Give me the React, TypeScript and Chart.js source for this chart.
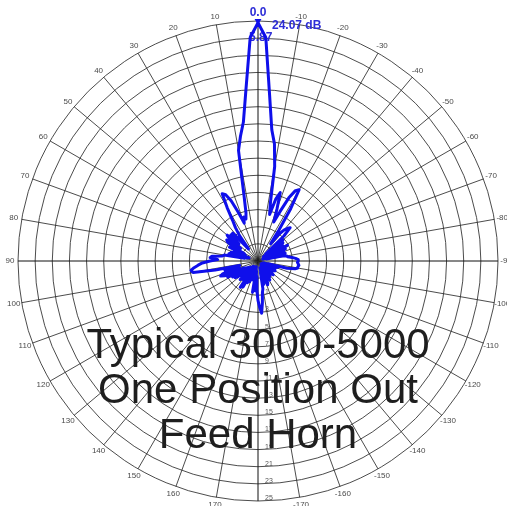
import React, { useEffect, useRef } from 'react';
import { Chart, registerables } from 'chart.js';

Chart.register(...registerables);

// Angle categories (degrees), clockwise from the top: 0, -2, ... -178, 180, 178, ... 2
const angleLabels: string[] = Array.from({ length: 180 }, (_, i) =>
  i === 90 ? '180' : String(i < 90 ? -2 * i : 360 - 2 * i)
);

// Measured gain (dB) from 0° going clockwise to -178°
const gainRightDb: number[] = [
  24.8, 23.1, 16.4, 12.4, 10.8, 8.2, 4.0, 2.6, 4.5, 5.4,
  3.5, 1.9, 3.3, 5.2, 6.3, 6.6, 4.2, 1.4, -0.5, 1.0,
  1.7, 2.1, 2.4, 1.2, -1.8, 0.8, -2.2, 0.6, -1.5, 0.4,
  -2.0, 0.9, -1.2, 0.5, -2.4, 0.2, -1.6, 0.3, -2.0, 0.0,
  0.4, 0.5, 1.0, 1.4, 1.7, 1.7, 1.6, 1.7, 1.8, 1.7,
  1.7, 1.4, 0.5, -1.8, -0.6, -2.3, -0.8, -2.0, -0.9, -2.4,
  -0.7, -1.9, -1.0, -2.5, -0.9, -2.0, -0.6, -2.2, -1.0, -2.5,
  -0.8, -2.0, -0.7, -2.3, -0.4, -1.8, -0.7, -2.1, -0.2, 0.0,
  -1.9, -0.4, -2.2, -0.2, -1.6, 0.3, 0.7, 1.9, 3.1, 2.4,
];

// Measured gain (dB) from 180° going clockwise to 2°
const gainLeftDb: number[] = [
  1.6, 0.5, -1.2, 0.5, -1.8, 0.7, -2.0, -0.8, -2.3, -0.7,
  -2.0, -0.4, -2.2, -0.2, -1.9, 0.5, -1.6, 0.7, -1.9, -0.2,
  -2.2, -0.7, 0.0, -2.0, -0.4, -1.8, 0.0, 0.3, -1.7, 0.5,
  -1.4, 1.0, -1.2, 1.2, 1.7, 1.4, -0.7, 1.0, -0.8, 2.1,
  4.7, 4.9, 4.5, 4.0, 3.5, 2.6, 1.7, 2.6, 2.4, 1.2,
  1.0, -1.4, 0.5, -1.7, 0.3, -1.9, 0.0, -1.4, 0.7, -1.2,
  0.5, 1.2, 1.4, -0.5, 1.2, 1.7, 0.0, 1.4, 1.2, 1.4,
  -0.5, -1.2, 0.7, 1.7, 2.6, 4.2, 5.9, 5.6, 4.7, 3.1,
  1.7, 2.4, 2.1, 2.8, 4.9, 10.1, 11.7, 13.3, 17.1, 23.1,
];

const gainDb: number[] = [...gainRightDb, ...gainLeftDb];

// Peak marker at 0°
const peakMarkerDb: number[] = [25];

// Radial scale (dB)
const rMin = -3;
const rMax = 25;
const rStep = 2;

// Annotations
const peakAngleText = '0.0';
const peakGainText = '24.07 dB';
const beamText = '5.87';

const titleLines = ['Typical 3000-5000', 'One Position Out', 'Feed Horn'];

const FONT = '"Liberation Sans", Arial, Helvetica, sans-serif';

const polarTextPlugin = {
  id: 'polarText',
  beforeDatasetsDraw(chart: any) {
    const s = chart.scales.r;
    const ctx = chart.ctx as CanvasRenderingContext2D;
    ctx.save();
    // angle labels every 10°
    ctx.textAlign = 'center';
    ctx.textBaseline = 'middle';
    ctx.font = `8px ${FONT}`;
    ctx.fillStyle = '#4a4a4a';
    for (let i = 5; i < angleLabels.length; i += 5) {
      const p = s.getPointPosition(i, s.drawingArea + 8);
      ctx.fillText(angleLabels[i], p.x, p.y);
    }
    // radial tick labels along the 180° direction
    ctx.textAlign = 'left';
    ctx.font = `7px ${FONT}`;
    ctx.fillStyle = '#555';
    s.ticks.forEach((t: any, idx: number) => {
      if (idx === 0) return;
      const off = s.getDistanceFromCenterForValue(t.value);
      ctx.fillText(String(t.value), s.xCenter + 7, s.yCenter + off - 3);
    });
    // blue annotations
    ctx.fillStyle = 'rgb(45,45,215)';
    ctx.font = `bold 12px ${FONT}`;
    const top = s.getPointPosition(0, s.drawingArea + 8);
    ctx.textAlign = 'center';
    ctx.fillText(peakAngleText, top.x, top.y);
    ctx.textAlign = 'left';
    ctx.fillText(peakGainText, s.xCenter + 14, s.yCenter - s.drawingArea + 5);
    ctx.fillText(beamText, s.xCenter - 9, s.yCenter - s.drawingArea + 17);
    ctx.restore();
  },
};

export default function App() {
  const canvasRef = useRef<HTMLCanvasElement | null>(null);

  useEffect(() => {
    if (!canvasRef.current) return;
    Chart.defaults.font.family = FONT;
    const chart = new Chart(canvasRef.current, {
      type: 'radar',
      data: {
        labels: angleLabels,
        datasets: [
          {
            label: 'Gain',
            data: gainDb,
            borderColor: 'rgb(15,15,235)',
            borderWidth: 3,
            fill: false,
            pointRadius: 0,
            pointHoverRadius: 0,
            tension: 0,
            borderJoinStyle: 'round',
          },
          {
            label: 'Peak',
            data: peakMarkerDb,
            showLine: false,
            pointStyle: 'triangle',
            rotation: 180,
            pointRadius: 4,
            pointBackgroundColor: 'rgb(15,15,235)',
            pointBorderColor: 'rgb(15,15,235)',
            borderWidth: 0,
          },
        ],
      } as any,
      options: {
        animation: false,
        responsive: false,
        layout: { padding: { left: 18, right: 9, top: 21, bottom: 5 } },
        plugins: {
          legend: { display: false },
          tooltip: { enabled: false },
          title: { display: false },
        },
        scales: {
          r: {
            min: rMin,
            max: rMax,
            beginAtZero: false,
            ticks: { stepSize: rStep, display: false },
            pointLabels: { display: false },
            grid: {
              circular: true,
              color: 'rgba(45,45,45,0.85)',
              lineWidth: 1,
            },
            angleLines: {
              display: true,
              color: (c: any) => (c.index % 45 === 0 ? '#111' : 'rgba(45,45,45,0.85)'),
              lineWidth: (c: any) => (c.index % 5 === 0 ? 1 : 0),
            },
          },
        },
      } as any,
      plugins: [polarTextPlugin],
    });
    return () => chart.destroy();
  }, []);

  return (
    <div style={{ position: 'fixed', left: 0, top: 0, width: 507, height: 506, background: '#fff', overflow: 'hidden' }}>
      <canvas ref={canvasRef} width={507} height={506} style={{ display: 'block' }} />
      <div
        style={{
          position: 'absolute',
          left: 0,
          top: 321,
          width: 516,
          textAlign: 'center',
          fontFamily: FONT,
          fontSize: 42,
          lineHeight: '45px',
          color: '#1e1e1e',
          pointerEvents: 'none',
        }}
      >
        {titleLines.map((t) => (
          <div key={t}>{t}</div>
        ))}
      </div>
    </div>
  );
}
